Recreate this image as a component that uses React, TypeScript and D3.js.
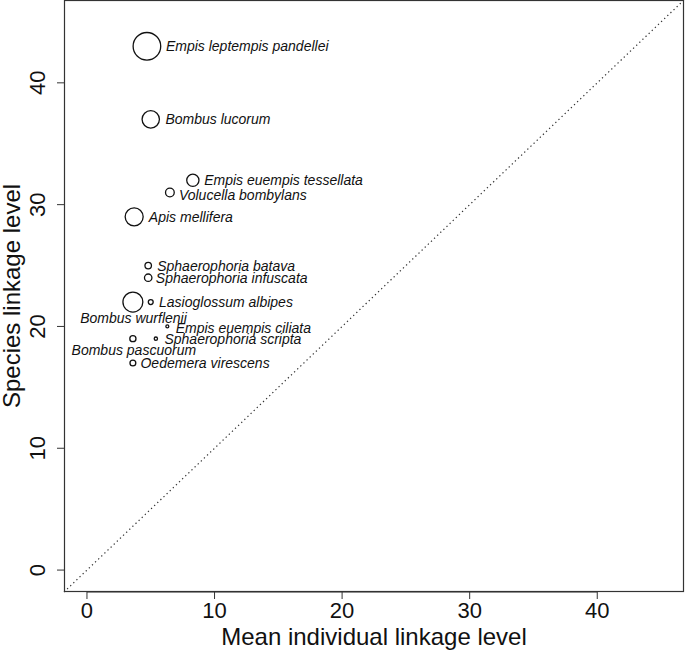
import React from "react";
import * as d3 from "d3";

const species = [
  "Empis leptempis pandellei",
  "Bombus lucorum",
  "Empis euempis tessellata",
  "Volucella bombylans",
  "Apis mellifera",
  "Sphaerophoria batava",
  "Sphaerophoria infuscata",
  "Lasioglossum albipes",
  "Bombus wurflenii",
  "Empis euempis ciliata",
  "Sphaerophoria scripta",
  "Bombus pascuorum",
  "Oedemera virescens",
];
const meanIndividualLinkage = [4.7, 5.0, 8.3, 6.5, 3.7, 4.8, 4.8, 5.0, 3.6, 6.3, 5.4, 3.6, 3.6];
const speciesLinkage = [43, 37, 32, 31, 29, 25, 24, 22, 22, 20, 19, 19, 17];
const pointCex = [4.5, 2.9, 2.1, 1.55, 3.0, 1.2, 1.35, 0.95, 3.3, 0.65, 0.7, 1.15, 1.1];
const xTicks = [0, 10, 20, 30, 40];
const yTicks = [0, 10, 20, 30, 40];

// label nudges relative to point centre (px)
const labelNudge: [number, number][] = [
  [19, 0], [14.7, 0], [11.3, 0], [9, 2.3], [14.7, 0], [9, 0], [7.6, 0],
  [8.3, 0], [-52.7, 16], [8.3, 2], [8.6, 0], [-61.3, 11], [7.6, 0],
];

const W = 685, H = 652;
const left = 64, right = 684, top = 0, bottom = 592;
const lim: [number, number] = [0 - 0.04 * 45, 45 + 0.04 * 45];

export default function App() {
  const x = d3.scaleLinear().domain(lim).range([left, right]);
  const y = d3.scaleLinear().domain(lim).range([bottom, top]);
  const font = "'Liberation Sans', Arial, Helvetica, sans-serif";
  const axisColor = "#333";
  return (
    <svg width={W} height={H} style={{ position: "absolute", left: 0, top: 0, background: "#fff" }}
      fontFamily={font}>
      <rect x={0} y={0} width={W} height={H} fill="#fff" />
      {/* 1:1 line */}
      <line x1={x(lim[0])} y1={y(lim[0])} x2={x(lim[1])} y2={y(lim[1])}
        stroke="#333" strokeWidth={1.2} strokeDasharray="1.3,3" />
      {/* box */}
      <rect x={left + 0.5} y={top + 0.5} width={right - left - 1} height={bottom - top - 1}
        fill="none" stroke={axisColor} strokeWidth={1.2} />
      {/* x axis */}
      {xTicks.map((t) => (
        <g key={"x" + t}>
          <line x1={x(t)} x2={x(t)} y1={bottom} y2={bottom + 7} stroke={axisColor} strokeWidth={1} />
          <text x={x(t)} y={618} fontSize={22} textAnchor="middle" fill="#111">{t}</text>
        </g>
      ))}
      {xTicks.length > 0 && (
        <line x1={x(xTicks[0])} x2={x(xTicks[xTicks.length - 1])} y1={bottom} y2={bottom}
          stroke={axisColor} strokeWidth={1} />
      )}
      {/* y axis */}
      {yTicks.map((t) => (
        <g key={"y" + t}>
          <line x1={left - 7} x2={left} y1={y(t)} y2={y(t)} stroke={axisColor} strokeWidth={1} />
          <text transform={`translate(45,${y(t)}) rotate(-90)`} fontSize={22} textAnchor="middle" fill="#111">{t}</text>
        </g>
      ))}
      {/* titles */}
      <text x={(left + right) / 2} y={645} fontSize={24} textAnchor="middle" fill="#111">
        Mean individual linkage level
      </text>
      <text transform={`translate(19.5,${(top + bottom) / 2}) rotate(-90)`} fontSize={24}
        textAnchor="middle" fill="#111">
        Species linkage level
      </text>
      {/* points */}
      {species.map((s, i) => (
        <circle key={"c" + s} cx={x(meanIndividualLinkage[i])} cy={y(speciesLinkage[i])}
          r={pointCex[i] * 3.2 - 0.6} fill="none" stroke="#111" strokeWidth={1.3} />
      ))}
      {species.map((s, i) => (
        <text key={"t" + s} x={x(meanIndividualLinkage[i]) + labelNudge[i][0]}
          y={y(speciesLinkage[i]) + labelNudge[i][1] + 5} fontSize={14} fontStyle="italic" fill="#111">
          {s}
        </text>
      ))}
    </svg>
  );
}
